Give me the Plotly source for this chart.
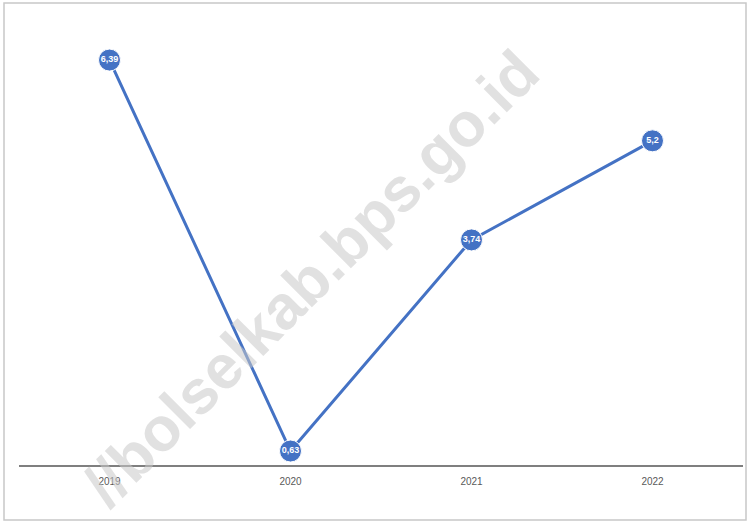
import plotly.graph_objects as go

years = ["2019", "2020", "2021", "2022"]
values = [6.39, 0.63, 3.74, 5.2]
labels = ["6,39", "0,63", "3,74", "5,2"]
watermark = "//bolselkab.bps.go.id"

fig = go.Figure()
fig.add_trace(go.Scatter(
    x=years, y=values, mode="lines+markers+text",
    line=dict(color="#4472C4", width=3),
    marker=dict(size=22, color="#4472C4", line=dict(color="white", width=1)),
    text=["<b>%s</b>" % t for t in labels], textposition="middle center",
    textfont=dict(color="white", size=9, family="Liberation Sans"),
    cliponaxis=False, hoverinfo="skip",
))

fig.add_annotation(
    text="<b>%s</b>" % watermark, xref="paper", yref="paper",
    x=0.402, y=0.42, xanchor="center", yanchor="middle", showarrow=False,
    textangle=-45, font=dict(size=62, color="rgba(200,200,200,0.55)", family="Liberation Sans"),
)

fig.update_layout(
    width=751, height=524,
    margin=dict(l=19, r=8, t=20, b=59),
    paper_bgcolor="white", plot_bgcolor="white",
    showlegend=False,
    xaxis=dict(type="category", range=[-0.5, 3.5], showgrid=False, zeroline=False,
               showline=True, linecolor="#7f7f7f", linewidth=2,
               ticks="", ticklabelstandoff=6,
               tickfont=dict(size=10, color="#595959", family="Liberation Sans")),
    yaxis=dict(range=[0.424, 6.98], visible=False, showgrid=False, zeroline=False),
    shapes=[dict(type="rect", xref="paper", yref="paper",
                 x0=-15/724, x1=1+3/724, y0=-55/445, y1=1+17/445,
                 line=dict(color="#c8c8c8", width=1.5), layer="below")],
)

fig.write_html("out.html", config={"displayModeBar": False},
               post_script="document.body.style.margin='0';")
